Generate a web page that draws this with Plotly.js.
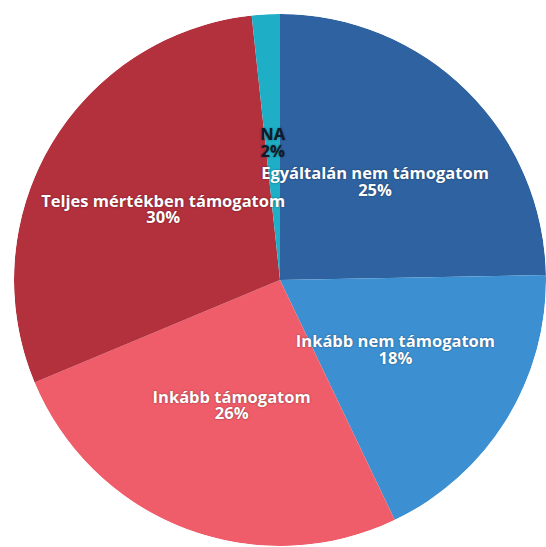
<!DOCTYPE html>
<html>
<head>
<meta charset="utf-8">
<script src="https://cdn.plot.ly/plotly-3.0.1.min.js"></script>
<style>html,body{margin:0;padding:0;background:#fff;}#chart{width:546px;height:547px;}</style>
</head>
<body>
<div id="chart"></div>
<script>
// Data (clockwise from 12 o'clock)
const categories = ["Egyáltalán nem támogatom", "Inkább nem támogatom", "Inkább támogatom", "Teljes mértékben támogatom", "NA"];
const values = [24.7, 18.2, 25.8, 29.6, 1.7];
const colors = ["#2f62a0", "#3c90d2", "#ee5d69", "#b3303d", "#1eaec6"];
const textColors = ["#ffffff", "#ffffff", "#ffffff", "#ffffff", "#111a2a"];

const total = values.reduce((a, b) => a + b, 0);
const widths = [], centers = [], pctText = [];
let cum = 0;
values.forEach(v => {
  const w = v / total * 360;
  widths.push(w);
  centers.push(cum + w / 2);
  cum += w;
  pctText.push(Math.round(v / total * 100) + "%");
});

const labelR = categories.map(() => 0.51);
const font = {family: "Open Sans, Noto Sans, sans-serif", size: 16.5, weight: 700, color: textColors,
              shadow: "0px 0px 2px rgba(0,0,0,0.45)"};

const traces = [
  {
    type: "barpolar",
    r: categories.map(() => 1),
    theta: centers,
    width: widths,
    marker: {color: colors, line: {width: 0}},
    hoverinfo: "skip",
    showlegend: false
  },
  {
    type: "scatterpolar",
    mode: "text",
    r: labelR,
    theta: centers,
    text: categories,
    textposition: "top center",
    textfont: font,
    hoverinfo: "skip",
    showlegend: false
  },
  {
    type: "scatterpolar",
    mode: "text",
    r: labelR,
    theta: centers,
    text: pctText,
    textposition: "bottom center",
    textfont: font,
    hoverinfo: "skip",
    showlegend: false
  }
];

const layout = {
  width: 546,
  height: 547,
  margin: {l: 0, r: 0, t: 0, b: 0},
  paper_bgcolor: "#ffffff",
  showlegend: false,
  polar: {
    domain: {x: [14 / 546, 1], y: [1 / 547, 533 / 547]},
    bgcolor: "rgba(0,0,0,0)",
    bargap: 0,
    angularaxis: {visible: false, rotation: 90, direction: "clockwise", showgrid: false, showline: false, ticks: ""},
    radialaxis: {visible: false, range: [0, 1], showgrid: false, showline: false}
  }
};

Plotly.newPlot("chart", traces, layout, {displayModeBar: false, staticPlot: true});
</script>
</body>
</html>
